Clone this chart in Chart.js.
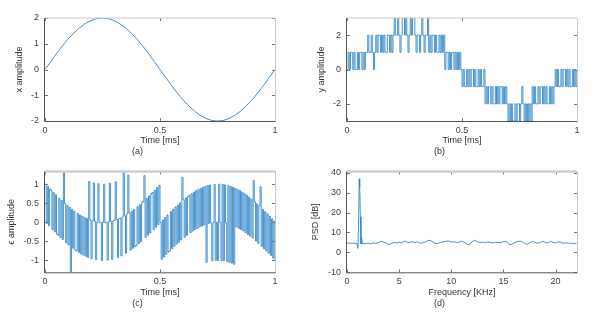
<!DOCTYPE html>
<html>
<head>
<meta charset="utf-8">
<script src="https://cdn.jsdelivr.net/npm/chart.js@4.4.1/dist/chart.umd.min.js"></script>
<style>
  html, body { margin: 0; padding: 0; background: #fff; }
  #wrap { position: relative; width: 604px; height: 317px; overflow: hidden; }
  canvas { position: absolute; }
</style>
</head>
<body>
<div id="wrap">
  <canvas id="chartA" width="302" height="160" style="left:0;top:0"></canvas>
  <canvas id="chartB" width="302" height="160" style="left:302px;top:0"></canvas>
  <canvas id="chartC" width="302" height="152" style="left:0;top:160px"></canvas>
  <canvas id="chartD" width="302" height="152" style="left:302px;top:160px"></canvas>
</div>
<script>
// (a) input sine, sampled every 0.025 ms
var dtA = 0.025;
var xAmp = [0, 0.31, 0.62, 0.91, 1.18, 1.41, 1.62, 1.78, 1.90, 1.98, 2.00, 1.98, 1.90, 1.78, 1.62, 1.41,
  1.18, 0.91, 0.62, 0.31, 0, -0.31, -0.62, -0.91, -1.18, -1.41, -1.62, -1.78, -1.90, -1.98, -2.00, -1.98,
  -1.90, -1.78, -1.62, -1.41, -1.18, -0.91, -0.62, -0.31, 0];

// (b) quantized output, sampled every 0.005 ms
var dtB = 0.005;
var yAmp = [
  0,1,0,1,1,0,1,0,0,1,0,1,1,0,1,0,1,
  1,2,1,1,2,1,0,1,
  2,1,2,2,1,2,1,2,1,1,2,2,1,2,1,2,
  3,2,2,3,2,1,2,3,3,2,3,2,1,2,3,2,3,3,2,1,2,2,1,2,3,2,1,2,2,3,
  1,2,1,2,2,1,2,1,1,2,1,2,1,2,
  0,1,1,0,1,0,1,1,0,1,0,1,0,1,0,
  -1,0,-1,-1,0,-1,0,-1,0,0,-1,0,-1,-1,0,-1,0,-1,-1,0,
  -2,-1,-2,-1,-1,-2,-1,-2,-2,-1,-2,-1,-2,-1,-1,-2,-1,-2,-1,-2,
  -3,-2,-3,-2,-3,-3,-2,-3,-2,-2,-3,-2,-1,-2,-3,-2,-3,-2,-3,-2,-3,
  -1,-2,-1,-2,-2,-1,-2,-1,-1,-2,-1,-2,-1,-2,-2,-1,-2,-1,-2,-1,
  0,-1,0,-1,-1,0,-1,0,0,-1,0,-1,0,-1,-1,0,-1,0,-1,0
];

// (c) quantization error, same sampling as (b)
var epsAmp = [
  1.00, -0.03, 0.94, -0.09, 0.87, 0.84, -0.19, 0.78, -0.25, 0.72,
  -0.31, -0.34, 0.63, -0.40, 0.57, -0.45, 1.52, 0.49, -0.54, 0.44,
  -0.59, 0.39, -1.64, 0.34, -0.68, 0.29, -0.73, -0.75, 0.23, -0.79,
  0.19, -0.83, 0.16, -0.86, 0.12, -0.89, 0.10, -0.92, 1.07, 0.06,
  -0.95, 0.04, 1.03, 0.02, -0.98, 0.01, 1.01, 0.00, 0.00, -1.00,
  0.00, 1.00, 0.00, 0.00, -0.99, 0.01, 1.02, 0.02, -0.97, 0.04,
  0.05, 1.06, 0.07, -0.92, 0.10, 0.11, -0.88, 0.14, 1.45, 0.17,
  -0.81, 0.21, 1.23, 0.25, -0.73, 0.29, -0.68, 0.34, -0.64, -0.61,
  0.41, -0.56, 0.46, -0.51, 0.52, 0.55, 1.22, -0.40, 0.63, -0.34,
  0.69, -0.28, 0.75, 0.78, -0.19, 0.84, -0.13, 0.91, -0.06, 0.97,
  0.00, -0.97, 0.06, -0.91, 0.13, -0.84, 0.19, -0.78, -0.75, 0.28,
  -0.69, 0.34, -0.63, 0.40, -0.57, 0.45, -0.52, 0.51, -0.46, 1.18,
  0.59, -0.39, 0.64, -0.34, 0.68, 0.71, -0.27, 0.75, -0.23, 0.79,
  -0.19, 0.83, -0.16, 0.86, -0.12, 0.89, -0.10, 0.92, -0.07, 0.94,
  -1.05, 0.96, -0.03, 0.97, -0.02, -1.01, -0.01, 0.99, -1.00, 0.00,
  -1.00, 1.00, 0.00, -1.00, 0.99, -1.01, 0.98, -0.02, -1.03, 0.96,
  -1.05, 0.94, -1.07, 0.92, -1.10, 0.89, -0.12, 0.86, -0.16, 0.83,
  -0.19, 0.79, -0.23, 0.75, -0.27, 0.71, -0.32, 0.66, -0.36, 0.61,
  -0.41, 1.10, 0.54, -0.49, 0.48, -0.55, 0.43, 0.93, -0.63, 0.34,
  -0.69, 0.28, -0.75, 0.22, -0.81, 0.16, -0.87, 0.09, -0.94, 0.03,
  -1.00
];

// (d) power spectral density
var psdFreq = [0, 0.25, 0.5, 0.75, 0.95, 1.05, 1.12, 1.17, 1.22, 1.28, 1.34, 1.40, 1.47, 1.55,
  1.75, 2.0, 2.25, 2.5, 2.75, 3.0, 3.25, 3.5, 3.75, 4.0, 4.25, 4.5, 4.75, 5.0, 5.25, 5.5, 5.75,
  6.0, 6.25, 6.5, 6.75, 7.0, 7.25, 7.5, 7.75, 8.0, 8.25, 8.5, 8.75, 9.0, 9.25, 9.5, 9.75,
  10.0, 10.25, 10.5, 10.75, 11.0, 11.25, 11.5, 11.75, 12.0, 12.25, 12.5, 12.75, 13.0, 13.25, 13.5, 13.75,
  14.0, 14.25, 14.5, 14.75, 15.0, 15.25, 15.5, 15.75, 16.0, 16.25, 16.5, 16.75, 17.0, 17.25, 17.5, 17.75,
  18.0, 18.25, 18.5, 18.75, 19.0, 19.25, 19.5, 19.75, 20.0, 20.25, 20.5, 20.75, 21.0, 21.25, 21.5, 21.75, 22.0];
var psdDb = [4.8, 4.6, 4.7, 4.5, 4.4, 2.0, 18, 37, 33, 18, 4.3, 7.5, 4.2, 4.5,
  4.4, 4.6, 4.3, 4.8, 4.5, 4.9, 5.6, 5.2, 4.6, 3.9, 4.5, 5.0, 4.7, 5.1, 4.8, 5.7, 5.2,
  5.0, 5.4, 4.9, 5.3, 4.6, 4.8, 5.3, 5.9, 6.0, 5.2, 4.4, 4.6, 5.0, 5.3, 5.6, 5.7,
  5.2, 5.4, 4.9, 5.2, 5.6, 5.1, 4.1, 3.9, 5.5, 6.0, 5.3, 5.0, 5.1, 4.8, 5.3, 5.0,
  4.7, 5.1, 4.9, 5.0, 5.4, 5.6, 4.1, 4.0, 4.7, 5.3, 5.6, 5.5, 4.6, 4.0, 4.7, 5.6,
  5.0, 4.6, 4.9, 5.6, 5.1, 4.8, 5.6, 5.0, 4.7, 5.4, 5.0, 4.6, 4.8, 4.5, 4.7, 4.4, 4.6];

// ticks
var timeTicks = [0, 0.5, 1];
var xTicksA = [-2, -1, 0, 1, 2];
var yTicksB = [-2, 0, 2];
var epsTicks = [-1, -0.5, 0, 0.5, 1];
var freqTicks = [0, 5, 10, 15, 20];
var dbTicks = [-10, 0, 10, 20, 30, 40];

var lightBlue = '#2f86c8';
var darkBlue = '#1a78c2';
var fontFam = '"Liberation Sans", Arial, sans-serif';

function samples(vals, dt) {
    var pts = [];
    for (var i = 0; i < vals.length; i++) pts.push({ x: i * dt, y: vals[i] });
    return pts;
}
function pairs(xs, ys) {
    var pts = [];
    for (var i = 0; i < xs.length; i++) pts.push({ x: xs[i], y: ys[i] });
    return pts;
}

// axes box with inward tick marks (matlab look)
var boxPlugin = {
    id: 'box',
    afterDatasetsDraw(chart, args, opts) {
        var ctx = chart.ctx, a = chart.chartArea;
        var sx = chart.scales.x, sy = chart.scales.y;
        ctx.save();
        ctx.lineWidth = 1;
        ctx.strokeStyle = '#777';
        ctx.beginPath();
        sx.ticks.forEach(function (t) {
            var px = Math.round(sx.getPixelForValue(t.value)) + 0.5;
            ctx.moveTo(px, a.bottom); ctx.lineTo(px, a.bottom - 3);
            ctx.moveTo(px, a.top); ctx.lineTo(px, a.top + 3);
        });
        sy.ticks.forEach(function (t) {
            var py = Math.round(sy.getPixelForValue(t.value)) + 0.5;
            ctx.moveTo(a.left, py); ctx.lineTo(a.left + 3, py);
            ctx.moveTo(a.right, py); ctx.lineTo(a.right - 3, py);
        });
        ctx.stroke();
        // top + right light
        ctx.strokeStyle = opts.topColor;
        ctx.lineWidth = opts.topWidth;
        ctx.beginPath();
        ctx.moveTo(a.left, a.top); ctx.lineTo(a.right, a.top);
        ctx.stroke();
        ctx.lineWidth = 1;
        ctx.strokeStyle = '#c8c8c8';
        ctx.beginPath();
        ctx.moveTo(a.right + 0.5, a.top); ctx.lineTo(a.right + 0.5, a.bottom);
        ctx.stroke();
        // left + bottom dark
        ctx.strokeStyle = '#555';
        ctx.beginPath();
        ctx.moveTo(a.left - 0.5, a.top); ctx.lineTo(a.left - 0.5, a.bottom + 0.5);
        ctx.lineTo(a.right + 0.5, a.bottom + 0.5);
        ctx.stroke();
        ctx.restore();
    }
};

function makePanel(id, cfg) {
    var ctx = document.getElementById(id).getContext('2d');
    return new Chart(ctx, {
        type: 'line',
        data: {
            datasets: [{
                data: cfg.points,
                borderColor: cfg.color,
                borderWidth: cfg.lw,
                stepped: cfg.stepped,
                pointRadius: 0,
                tension: 0,
                fill: false
            }]
        },
        options: {
            responsive: false,
            animation: false,
            events: [],
            layout: { padding: { left: 0, right: 27, top: cfg.padTop, bottom: 0 } },
            scales: {
                x: {
                    type: 'linear',
                    min: cfg.xMin, max: cfg.xMax,
                    afterBuildTicks: function (s) { s.ticks = cfg.xTicks.map(function (v) { return { value: v }; }); },
                    afterFit: function (s) { s.height = cfg.xHeight; },
                    grid: { display: false, drawTicks: false },
                    border: { display: false },
                    ticks: { padding: 4, color: '#444', font: { family: fontFam, size: 9 },
                        maxRotation: 0, autoSkip: false, callback: function (v) { return String(v); } },
                    title: { display: true, text: cfg.xTitle, color: '#333',
                        font: { family: fontFam, size: 9 }, padding: { top: 0, bottom: 0 } }
                },
                y: {
                    type: 'linear',
                    min: cfg.yMin, max: cfg.yMax,
                    afterBuildTicks: function (s) { s.ticks = cfg.yTicks.map(function (v) { return { value: v }; }); },
                    afterFit: function (s) { s.width = 45; },
                    grid: { display: false, drawTicks: false },
                    border: { display: false },
                    ticks: { padding: 6, color: '#444', font: { family: fontFam, size: 9 },
                        autoSkip: false, callback: function (v) { return String(v); } },
                    title: { display: true, text: cfg.yTitle, color: '#333',
                        font: { family: fontFam, size: 9 }, padding: { top: cfg.yTitlePad, bottom: 0 } }
                }
            },
            plugins: {
                legend: { display: false },
                tooltip: { enabled: false },
                title: { display: true, position: 'bottom', text: cfg.caption, color: '#333',
                    font: { family: fontFam, size: 9, weight: 'normal' }, padding: { top: 0, bottom: 3 } },
                box: { topColor: cfg.topColor, topWidth: cfg.topWidth }
            }
        },
        plugins: [boxPlugin]
    });
}

makePanel('chartA', {
    points: samples(xAmp, dtA), lw: 0.9, stepped: false, color: lightBlue,
    xMin: 0, xMax: 1, xTicks: timeTicks, xTitle: 'Time [ms]',
    yMin: -2, yMax: 2, yTicks: xTicksA, yTitle: 'x amplitude', yTitlePad: 14.6,
    padTop: 18, xHeight: 25.2, caption: '(a)', topColor: '#c8c8c8', topWidth: 1
});
makePanel('chartB', {
    points: samples(yAmp, dtB), lw: 0.8, stepped: true, color: darkBlue,
    xMin: 0, xMax: 1, xTicks: timeTicks, xTitle: 'Time [ms]',
    yMin: -3, yMax: 3, yTicks: yTicksB, yTitle: 'y amplitude', yTitlePad: 14.6,
    padTop: 18, xHeight: 25.2, caption: '(b)', topColor: '#c8c8c8', topWidth: 1
});
makePanel('chartC', {
    points: samples(epsAmp, dtB), lw: 0.8, stepped: true, color: darkBlue,
    xMin: 0, xMax: 1, xTicks: timeTicks, xTitle: 'Time [ms]',
    yMin: -1.31, yMax: 1.333, yTicks: epsTicks, yTitle: '\u03F5 amplitude', yTitlePad: 6.3,
    padTop: 7.5, xHeight: 25.9, caption: '(c)', topColor: '#cfcfcf', topWidth: 2.5
});
makePanel('chartD', {
    points: pairs(psdFreq, psdDb), lw: 0.9, stepped: false, color: lightBlue,
    xMin: 0, xMax: 22.05, xTicks: freqTicks, xTitle: 'Frequency [KHz]',
    yMin: -10, yMax: 40.7, yTicks: dbTicks, yTitle: 'PSD [dB]', yTitlePad: 7.9,
    padTop: 7.5, xHeight: 25.9, caption: '(d)', topColor: '#cfcfcf', topWidth: 2.5
});
</script>
</body>
</html>
